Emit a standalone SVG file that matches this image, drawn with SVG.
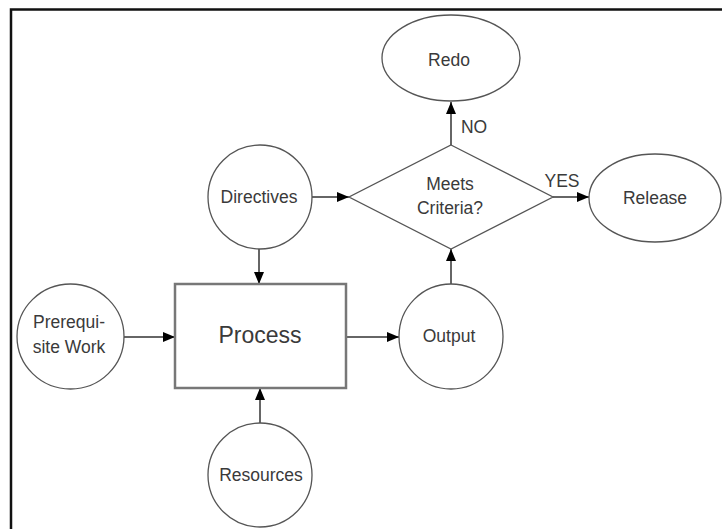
<svg xmlns="http://www.w3.org/2000/svg" width="722" height="529" viewBox="0 0 722 529">
<style>
.shape{fill:#fff;stroke:#555;stroke-width:1.3}
.box{fill:#fff;stroke:#777;stroke-width:2.5}
.lbl{font-family:"Liberation Sans",Arial,sans-serif;font-size:17.5px;fill:#3a3a3a;text-anchor:middle}
.big{font-size:23px}
.edge{stroke:#666;stroke-width:2;fill:none}
.frame{stroke:#111;stroke-width:2.5;fill:none}
</style>
<defs>
<marker id="arr" viewBox="0 0 12 10" refX="12" refY="5" markerWidth="12" markerHeight="10" markerUnits="userSpaceOnUse" orient="auto">
<path d="M0,0 L12,5 L0,10 Z" fill="#000"/>
</marker>
</defs>
<path class="frame" d="M11,529 L11,9.5 L722,9.5"/>
<g id="connectors">
<line class="edge" x1="312" y1="197" x2="349" y2="197" marker-end="url(#arr)"/>
<line class="edge" x1="259" y1="249" x2="259" y2="284" marker-end="url(#arr)"/>
<line class="edge" x1="124" y1="337" x2="175" y2="337" marker-end="url(#arr)"/>
<line class="edge" x1="346" y1="337" x2="399" y2="337" marker-end="url(#arr)"/>
<line class="edge" x1="260" y1="423" x2="260" y2="388" marker-end="url(#arr)"/>
<line class="edge" x1="451" y1="284" x2="451" y2="249" marker-end="url(#arr)"/>
<line class="edge" x1="451" y1="145" x2="451" y2="102" marker-end="url(#arr)"/>
<line class="edge" x1="553" y1="197" x2="589" y2="197" marker-end="url(#arr)"/>
<text class="lbl" x="474" y="133">NO</text>
<text class="lbl" x="562" y="187">YES</text>
</g>
<g id="redo">
<ellipse class="shape" cx="451" cy="58" rx="69" ry="43"/>
<text class="lbl" x="449" y="66">Redo</text>
</g>
<g id="decision">
<polygon class="shape" points="451,145 553,197 451,249 349,197"/>
<text class="lbl" x="450" y="190">Meets</text>
<text class="lbl" x="450" y="214">Criteria?</text>
</g>
<g id="release">
<ellipse class="shape" cx="655" cy="198" rx="66" ry="44"/>
<text class="lbl" x="655" y="204">Release</text>
</g>
<g id="directives">
<ellipse class="shape" cx="260" cy="197" rx="52" ry="52"/>
<text class="lbl" x="259" y="203">Directives</text>
</g>
<g id="prerequisite">
<ellipse class="shape" cx="70.5" cy="336.5" rx="53.5" ry="52.5"/>
<text class="lbl" x="69" y="328">Prerequi-</text>
<text class="lbl" x="69" y="353">site Work</text>
</g>
<g id="process">
<rect class="box" x="175" y="284" width="171" height="104"/>
<text class="lbl big" x="260" y="343">Process</text>
</g>
<g id="output">
<ellipse class="shape" cx="451" cy="336.5" rx="52" ry="52.5"/>
<text class="lbl" x="449" y="342">Output</text>
</g>
<g id="resources">
<ellipse class="shape" cx="260" cy="475" rx="52" ry="52"/>
<text class="lbl" x="261" y="481">Resources</text>
</g>
</svg>
